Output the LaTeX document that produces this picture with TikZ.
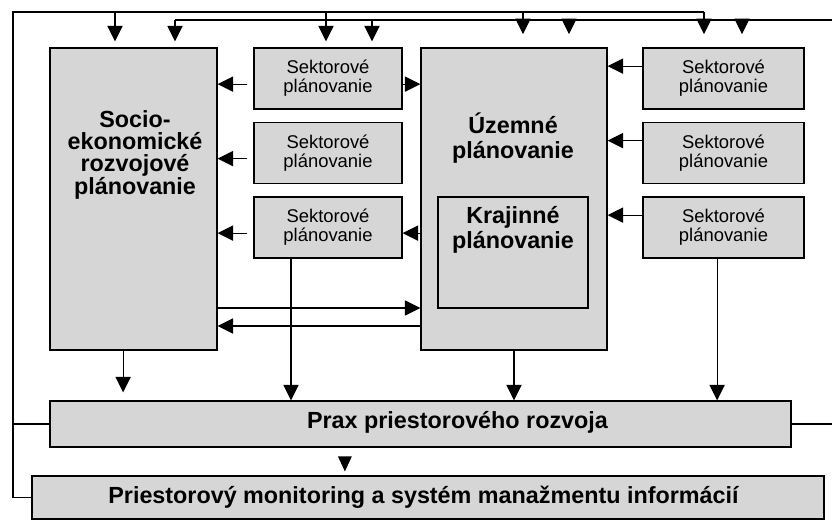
\documentclass[tikz,border=0pt]{standalone}
\usepackage{fontspec}
\setmainfont{Liberation Sans}
\usepackage{xcolor}
\usepackage{tikz}
\usetikzlibrary{arrows.meta}

\begin{document}
\begin{tikzpicture}[
  >={Triangle[length=3.9mm,width=3.8mm]},
  box/.style={rectangle, draw, line width=0.8pt, fill=black!16,
              inner sep=0pt},
  sect/.style={box, minimum width=3.7cm, minimum height=1.525cm,
               align=center, font=\fontsize{13.1}{13.5}\selectfont},
  sectr/.style={sect, minimum width=4.025cm},
  txt/.style={align=center, font=\fontsize{16.6}{15.6}\selectfont\bfseries},
  txtw/.style={align=center, font=\fontsize{16.6}{17.8}\selectfont\bfseries},
  wire/.style={line width=0.8pt}]
  \useasboundingbox (0,0) rectangle (20.8,-13.025);
  \node[box, minimum width=4.175cm, minimum height=7.55cm] (socio) at (3.3375,-4.975) {};
  \node[txt] (sociot) at (3.375,-3.875) {Socio-\\ekonomické\\rozvojové\\plánovanie};
  \node[sect] (sek1a) at (8.2,-1.9625) {Sektorové\\plánovanie};
  \node[sect] (sek1b) at (8.2,-3.825) {Sektorové\\plánovanie};
  \node[sect] (sek1c) at (8.2,-5.6875) {Sektorové\\plánovanie};
  \node[box, minimum width=4.65cm, minimum height=7.55cm] (uzem) at (12.85,-4.975) {};
  \node[txtw] (uzemt) at (12.825,-3.45) {Územné\\plánovanie};
  \node[box, minimum width=3.75cm, minimum height=2.775cm] (kraj) at (12.825,-6.3125) {};
  \node[txtw] (krajt) at (12.825,-5.75) {Krajinné\\plánovanie};
  \node[sectr] (sekR1) at (18.0875,-1.9625) {Sektorové\\plánovanie};
  \node[sectr] (sekR2) at (18.0875,-3.825) {Sektorové\\plánovanie};
  \node[sectr] (sekR3) at (18.0875,-5.6875) {Sektorové\\plánovanie};
  \node[box, minimum width=18.525cm, minimum height=1.15cm] (prax) at (10.5125,-10.6) {};
  \node[txt] (praxt) at (11.4375,-10.55) {Prax priestorového rozvoja};
  \node[box, minimum width=19.8cm, minimum height=1.075cm] (mon) at (10.7,-12.4375) {};
  \node[txt] (mont) at (10.5875,-12.42) {Priestorový monitoring a systém manažmentu informácií};
  % feedback lines along the top
  \coordinate (tl) at (0.325,-0.3);
  \coordinate (a1) at (2.875,-0.3);
  \coordinate (a2) at (8.15,-0.3);
  \coordinate (a3) at (13.075,-0.3);
  \coordinate (a4) at (17.6,-0.3);
  \coordinate (b1) at (4.375,-0.5);
  \coordinate (b2) at (9.3,-0.5);
  \coordinate (b3) at (14.225,-0.5);
  \coordinate (b4) at (18.55,-0.5);
  \coordinate (br) at (20.8,-0.5);
  \draw[wire] (mon.west) -| (tl) -- (a4);
  \draw[wire] (prax.west) -- (prax.west -| tl);
  \draw[wire] (b1) -- (br);
  \draw[wire] (prax.east) -- (prax.east -| br);
  \draw[wire, ->, shorten >=1.5mm] (a1) -- (a1 |- socio.north);
  \draw[wire, ->, shorten >=1.5mm] (b1) -- (b1 |- socio.north);
  \draw[wire, ->, shorten >=1.5mm] (a2) -- (a2 |- sek1a.north);
  \draw[wire, ->, shorten >=1.5mm] (b2) -- (b2 |- sek1a.north);
  \draw[wire, ->, shorten >=3.3mm] (a3) -- (a3 |- uzem.north);
  \draw[wire, ->, shorten >=3.3mm] (b3) -- (b3 |- uzem.north);
  \draw[wire, ->, shorten >=3.3mm] (a4) -- (a4 |- sekR1.north);
  \draw[wire, ->, shorten >=3.3mm] (b4) -- (b4 |- sekR1.north);
  % horizontal links
  \draw[wire, ->, shorten <=1.5mm] ([yshift=-1.4mm]sek1a.west) -- ([yshift=-1.4mm]sek1a.west -| socio.east);
  \draw[wire, ->, shorten <=1.5mm] ([yshift=-1.4mm]sek1b.west) -- ([yshift=-1.4mm]sek1b.west -| socio.east);
  \draw[wire, ->, shorten <=1.5mm] ([yshift=-1.4mm]sek1c.west) -- ([yshift=-1.4mm]sek1c.west -| socio.east);
  \draw[wire, ->] ([yshift=-1.4mm]sek1a.east) -- ([yshift=-1.4mm]sek1a.east -| uzem.west);
  \draw[wire, ->] ([yshift=-1.4mm]sek1c.east -| uzem.west) -- ([yshift=-1.4mm]sek1c.east);
  \draw[wire, ->] ([yshift=-27.25mm]socio.east) -- ([yshift=-27.25mm]socio.east -| uzem.west);
  \draw[wire, ->] ([yshift=-31.75mm]socio.east -| uzem.west) -- ([yshift=-31.75mm]socio.east);
  \draw[wire, ->] ([yshift=3.1mm]sekR1.west) -- ([yshift=3.1mm]sekR1.west -| uzem.east);
  \draw[wire, ->] ([yshift=3.1mm]sekR2.west) -- ([yshift=3.1mm]sekR2.west -| uzem.east);
  \draw[wire, ->] ([yshift=3.1mm]sekR3.west) -- ([yshift=3.1mm]sekR3.west -| uzem.east);
  % down to practice
  \draw[wire, ->, shorten >=2mm] ([xshift=-2.6mm]socio.south) -- ([xshift=-2.6mm]socio.south |- prax.north);
  \draw[wire, ->] ([xshift=-9.25mm]sek1c.south) -- ([xshift=-9.25mm]sek1c.south |- prax.north);
  \draw[wire, ->] (uzem.south) -- (uzem.south |- prax.north);
  \draw[wire, ->] ([xshift=-1.6mm]sekR3.south) -- ([xshift=-1.6mm]sekR3.south |- prax.north);
  \draw[wire, -{Triangle[length=3.75mm,width=3.4mm]}, shorten <=2.5mm, shorten >=1mm]
    ([xshift=-18.9mm]prax.south) -- ([xshift=-18.9mm]prax.south |- mon.north);
\end{tikzpicture}
\end{document}
